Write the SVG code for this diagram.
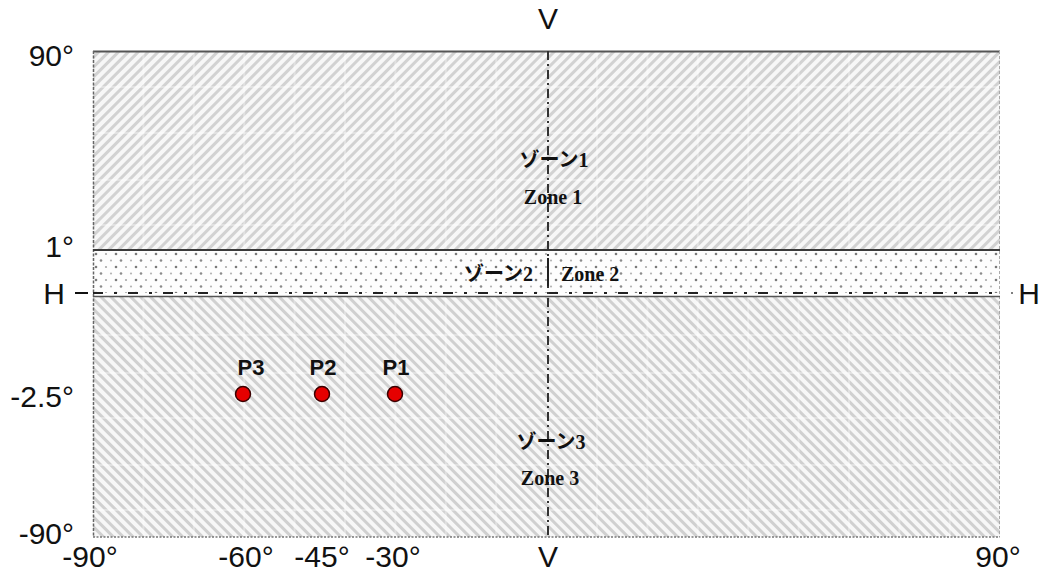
<svg xmlns="http://www.w3.org/2000/svg" width="1043" height="574" viewBox="0 0 1043 574">
<style>
.ax{font-family:"Liberation Sans",Arial,sans-serif;font-size:30px;fill:#111}
.pl{font-family:"Liberation Sans",Arial,sans-serif;font-size:22px;font-weight:bold;fill:#111}
.jp{font-family:"Liberation Serif","Noto Sans CJK JP",serif;font-size:20px;font-weight:600;fill:#111}
.en{font-family:"Liberation Serif","Times New Roman",serif;font-size:20px;font-weight:bold;fill:#111}
.grid{stroke:#ffffff;stroke-opacity:0.35;stroke-width:2}
.pt{fill:#e50000;stroke:#3a0000;stroke-width:1.5}
</style>
<defs>
<pattern id="hatchA" width="7" height="7" patternUnits="userSpaceOnUse" patternTransform="rotate(45)">
<rect width="7" height="7" fill="#f7f7f7"/>
<rect width="3" height="7" fill="#d2d2d2"/>
</pattern>
<pattern id="hatchB" width="7" height="7" patternUnits="userSpaceOnUse" patternTransform="rotate(-45)">
<rect width="7" height="7" fill="#f7f7f7"/>
<rect width="3" height="7" fill="#d0d0d0"/>
</pattern>
<pattern id="dots" width="20" height="13" patternUnits="userSpaceOnUse" x="93" y="251">
<rect width="20" height="13" fill="#fdfdfd"/>
<circle cx="3" cy="3" r="1.3" fill="#7a7a7a"/>
<circle cx="13" cy="3" r="1.1" fill="#a8a8a8"/>
<circle cx="8" cy="9.5" r="1.3" fill="#8a8a8a"/>
<circle cx="18" cy="9.5" r="1.1" fill="#b5b5b5"/>
</pattern>
</defs>
<rect width="1043" height="574" fill="#ffffff"/>

<g id="zone1">
<rect x="93" y="51" width="907" height="199" fill="url(#hatchA)"/>
</g>
<g id="zone2">
<rect x="93" y="251" width="907" height="42" fill="url(#dots)"/>
</g>
<g id="zone3">
<rect x="93" y="297" width="907" height="240" fill="url(#hatchB)"/>
</g>

<g id="grid">
<path class="grid" d="M143.4 52V249M193.8 52V249M244.2 52V249M294.6 52V249M345 52V249M395.4 52V249M445.8 52V249M496.2 52V249M597 52V249M647.4 52V249M697.8 52V249M748.2 52V249M798.6 52V249M849 52V249M899.4 52V249M949.8 52V249"/>
<path class="grid" d="M143.4 298V536M193.8 298V536M244.2 298V536M294.6 298V536M345 298V536M395.4 298V536M445.8 298V536M496.2 298V536M597 298V536M647.4 298V536M697.8 298V536M748.2 298V536M798.6 298V536M849 298V536M899.4 298V536M949.8 298V536"/>
<path class="grid" d="M94 87H999M94 133H999M94 180H999M94 225H999M94 335H999M94 373H999M94 418H999M94 465H999M94 510H999"/>
</g>

<g id="frame">
<line x1="93" y1="51.5" x2="1000" y2="51.5" stroke="#555" stroke-width="2"/>
<line x1="93.5" y1="51" x2="93.5" y2="537" stroke="#666" stroke-width="1.5" stroke-dasharray="3 1.5"/>
<line x1="999.5" y1="51" x2="999.5" y2="537" stroke="#aaa" stroke-width="1" stroke-dasharray="3 2"/>
<line x1="93" y1="537" x2="1000" y2="537" stroke="#777" stroke-width="1.5" stroke-dasharray="2 1.5"/>
<line x1="93" y1="250" x2="1000" y2="250" stroke="#3a3a3a" stroke-width="2"/>
<line x1="93" y1="296.5" x2="1000" y2="296.5" stroke="#555" stroke-width="1.5"/>
</g>

<g id="connectors">
<line id="h-line" x1="93" y1="293" x2="1003" y2="293" stroke="#222" stroke-width="2" stroke-dasharray="10 11 3 11"/>
<line id="v-line" x1="548" y1="51" x2="548" y2="537" stroke="#333" stroke-width="2" stroke-dasharray="9 4 2 4"/>
<line id="zone2-divider" x1="548" y1="258" x2="548" y2="286" stroke="#222" stroke-width="2"/>
<line id="h-left-tick" x1="75" y1="293" x2="88" y2="293" stroke="#111" stroke-width="2"/>
<circle cx="1012" cy="293" r="1" fill="#555"/>
</g>

<g id="axis-labels">
<text class="ax" x="74" y="66" text-anchor="end">90°</text>
<text class="ax" x="74" y="257" text-anchor="end">1°</text>
<text class="ax" x="54" y="304" text-anchor="middle">H</text>
<text class="ax" x="74" y="407" text-anchor="end">-2.5°</text>
<text class="ax" x="74" y="544" text-anchor="end">-90°</text>
<text class="ax" x="90" y="567" text-anchor="middle">-90°</text>
<text class="ax" x="246" y="567" text-anchor="middle">-60°</text>
<text class="ax" x="322" y="567" text-anchor="middle">-45°</text>
<text class="ax" x="393" y="567" text-anchor="middle">-30°</text>
<text class="ax" x="548" y="567" text-anchor="middle">V</text>
<text class="ax" x="998" y="567" text-anchor="middle">90°</text>
<text class="ax" x="548" y="29" text-anchor="middle">V</text>
<text class="ax" x="1029" y="304" text-anchor="middle">H</text>
</g>

<g id="zone1-label">
<text class="jp" x="554" y="167" text-anchor="middle">ゾーン1</text>
<text class="en" x="553" y="204" text-anchor="middle">Zone 1</text>
</g>
<g id="zone2-label">
<text class="jp" x="533" y="281" text-anchor="end">ゾーン2</text>
<text class="en" x="561" y="281">Zone 2</text>
</g>
<g id="zone3-label">
<text class="jp" x="551" y="449" text-anchor="middle">ゾーン3</text>
<text class="en" x="550" y="485" text-anchor="middle">Zone 3</text>
</g>

<g id="P3">
<circle class="pt" cx="243" cy="394" r="7.5"/>
<text class="pl" x="251" y="375" text-anchor="middle">P3</text>
</g>
<g id="P2">
<circle class="pt" cx="322" cy="394" r="7.5"/>
<text class="pl" x="323" y="375" text-anchor="middle">P2</text>
</g>
<g id="P1">
<circle class="pt" cx="395" cy="394" r="7.5"/>
<text class="pl" x="396" y="375" text-anchor="middle">P1</text>
</g>
</svg>
